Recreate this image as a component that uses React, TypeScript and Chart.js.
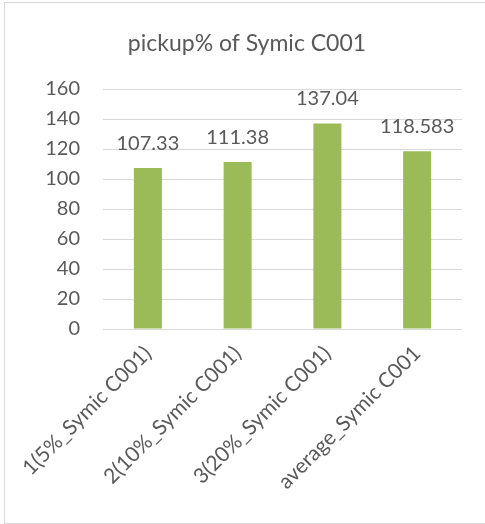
import React, { useEffect, useRef } from "react";
import { Chart, registerables } from "chart.js";

Chart.register(...registerables);

const categories = ["1(5%_Symic C001)", "2(10%_Symic C001)", "3(20%_Symic C001)", "average_Symic C001"];
const pickupValues = [107.33, 111.38, 137.04, 118.583];
const pickupLabels = ["107.33", "111.38", "137.04", "118.583"];
const yTicks = [0, 20, 40, 60, 80, 100, 120, 140, 160];
const chartTitle = "pickup% of Symic C001";

const FONT = "Lato, 'Noto Sans', sans-serif";
const TEXT = "#595959";

export default function App() {
  const ref = useRef<HTMLCanvasElement | null>(null);
  useEffect(() => {
    if (!ref.current) return;
    const titlePlugin = {
      id: "customTitle",
      afterDraw(chart: any) {
        const ctx = chart.ctx;
        ctx.save();
        ctx.font = `23px ${FONT}`;
        ctx.fillStyle = TEXT;
        ctx.textAlign = "center";
        ctx.textBaseline = "alphabetic";
        ctx.fillText(chartTitle, 247, 51);
        ctx.restore();
      },
    };
    const labelPlugin = {
      id: "barValues",
      afterDatasetsDraw(chart: any) {
        const ctx = chart.ctx;
        const meta = chart.getDatasetMeta(0);
        ctx.save();
        ctx.font = `20px ${FONT}`;
        ctx.fillStyle = TEXT;
        ctx.textAlign = "center";
        ctx.textBaseline = "alphabetic";
        meta.data.forEach((el: any, i: number) => {
          ctx.fillText(pickupLabels[i], el.x, el.y - 18);
        });
        ctx.restore();
      },
    };
    const chart = new Chart(ref.current, {
      type: "bar",
      data: {
        labels: categories,
        datasets: [
          {
            data: pickupValues,
            backgroundColor: "#9bbb59",
            borderWidth: 0,
            categoryPercentage: 1,
            barPercentage: 0.312,
          },
        ],
      },
      options: {
        responsive: false,
        animation: false,
        devicePixelRatio: 1,
        layout: { padding: { left: 0, right: 23, top: 89, bottom: 0 } },
        plugins: { legend: { display: false }, tooltip: { enabled: false }, title: { display: false } },
        scales: {
          x: {
            grid: { display: false, drawTicks: false },
            border: { display: false },
            ticks: {
              autoSkip: false,
              minRotation: 45,
              maxRotation: 45,
              padding: 12,
              color: TEXT,
              font: { family: FONT, size: 21 },
            },
            afterFit(scale: any) {
              scale.height = 195;
            },
          },
          y: {
            min: yTicks[0],
            max: yTicks[yTicks.length - 1],
            grid: { color: "#d9d9d9", lineWidth: 1, drawTicks: false },
            border: { display: false },
            ticks: {
              stepSize: 20,
              padding: 23,
              color: TEXT,
              font: { family: FONT, size: 20 },
            },
            afterFit(scale: any) {
              scale.width = 103;
            },
          },
        },
      },
      plugins: [titlePlugin, labelPlugin],
    });
    return () => chart.destroy();
  }, []);
  return (
    <div style={{ position: "fixed", left: 0, top: 0, width: 485, height: 524, overflow: "hidden", background: "#fff" }}>
      <div
        style={{
          position: "absolute",
          left: 4,
          top: 2,
          width: 500,
          height: 520,
          border: "1px solid #d9d9d9",
        }}
      />
      <canvas ref={ref} width={485} height={524} style={{ position: "absolute", left: 0, top: 0 }} />
    </div>
  );
}
